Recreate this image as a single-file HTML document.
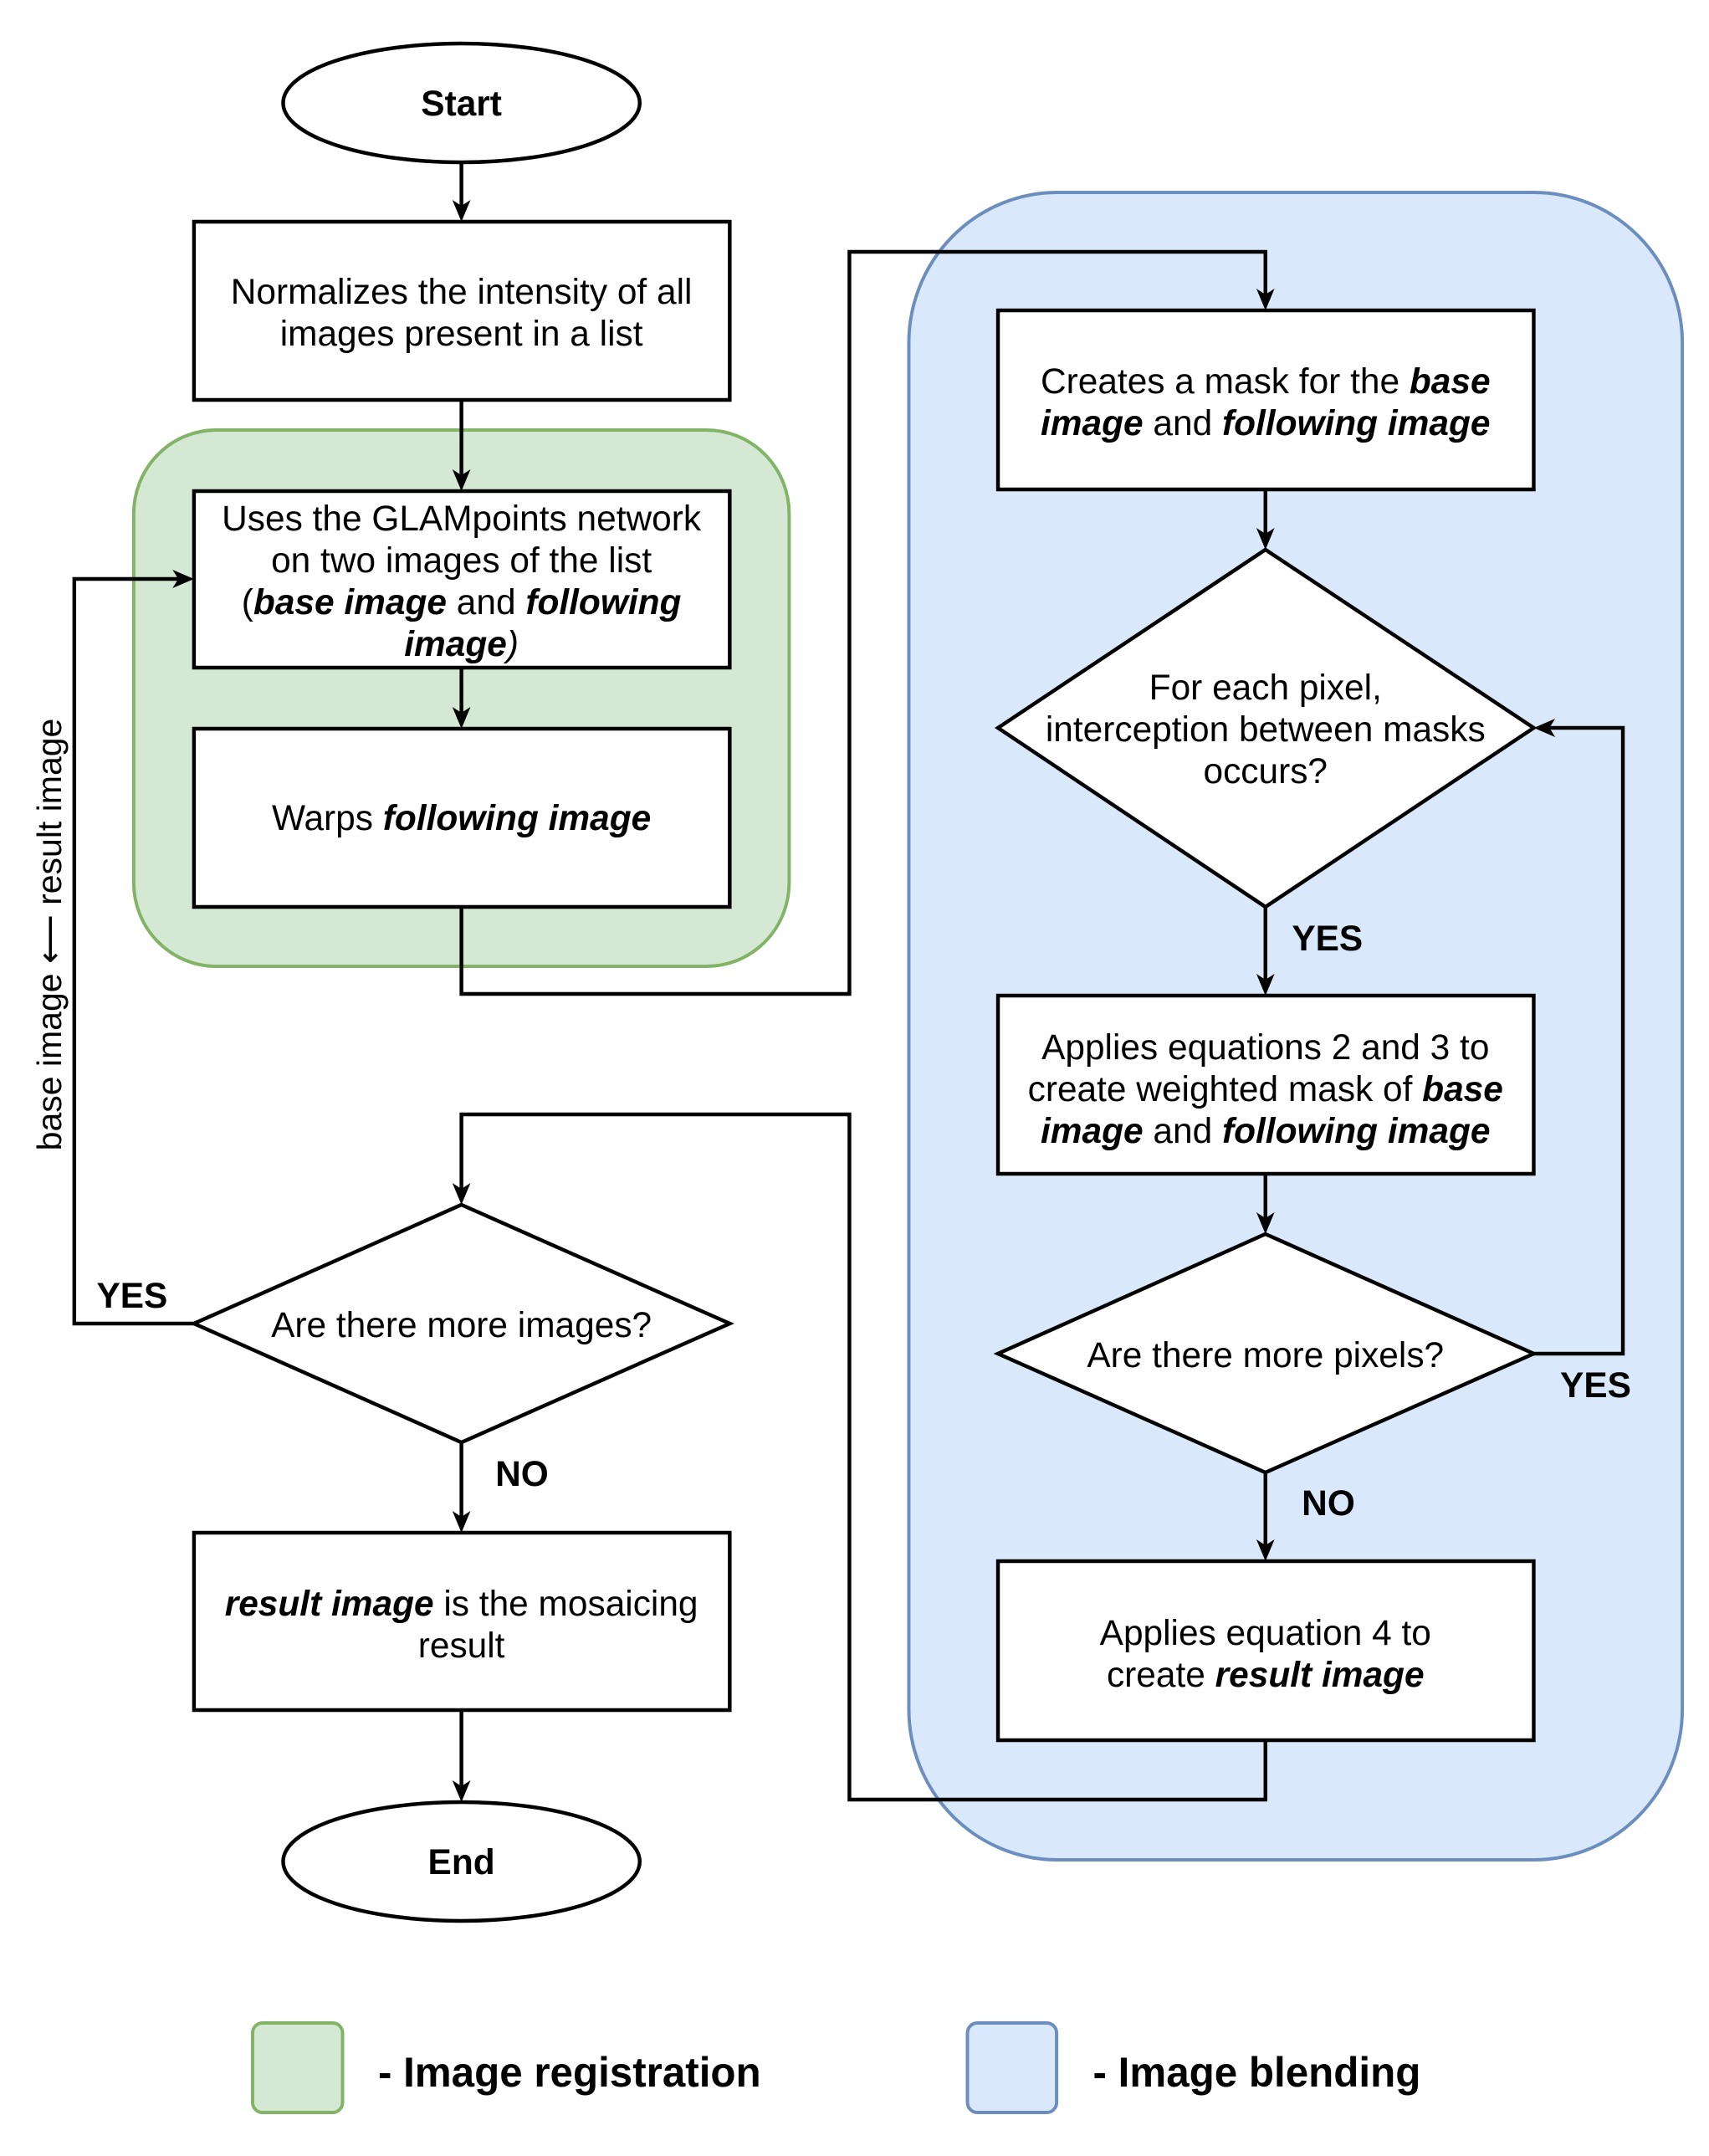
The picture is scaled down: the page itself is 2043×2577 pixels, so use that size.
<!DOCTYPE html>
<html><head><meta charset="utf-8"><style>
html,body{margin:0;padding:0;background:#fff;}
svg{display:block;}
text{font-family:"Liberation Sans",Arial,sans-serif;font-size:43px;fill:#000;}
.b{font-weight:bold;}
.bi{font-weight:bold;font-style:italic;}
</style></head><body>
<svg width="2043" height="2577" viewBox="0 0 2043 2577" xmlns="http://www.w3.org/2000/svg">
<g transform="scale(0.9868 1)">
<rect x="162" y="514" width="794" height="641" rx="100" fill="#d5e8d4" stroke="#82b366" stroke-width="4"/>
<rect x="1101" y="230" width="937" height="1993" rx="180" fill="#dae8fc" stroke="#6c8ebf" stroke-width="4"/>

<g stroke="#000" stroke-width="4.5" fill="none">
<path d="M559 194 V255"/>
<path d="M559 478 V577"/>
<path d="M559 798 V861"/>
<path d="M559 1084 V1188 H1029 V301 H1533 V361"/>
<path d="M1533 585 V647"/>
<path d="M1533 1084 V1180"/>
<path d="M1533 1403 V1465"/>
<path d="M1533 1760 V1856"/>
<path d="M1858 1618 H1966 V870 H1868"/>
<path d="M1533 2080 V2151 H1029 V1332 H559 V1430"/>
<path d="M235 1582 H90 V692 H225"/>
<path d="M559 1724 V1822"/>
<path d="M559 2044 V2144"/>
</g>
<g fill="#000">
<path d="M559 265 l-11 -26 l11 7 l11 -7z"/>
<path d="M559 587 l-11 -26 l11 7 l11 -7z"/>
<path d="M559 871 l-11 -26 l11 7 l11 -7z"/>
<path d="M1533 371 l-11 -26 l11 7 l11 -7z"/>
<path d="M1533 657 l-11 -26 l11 7 l11 -7z"/>
<path d="M1533 1190 l-11 -26 l11 7 l11 -7z"/>
<path d="M1533 1475 l-11 -26 l11 7 l11 -7z"/>
<path d="M1533 1866 l-11 -26 l11 7 l11 -7z"/>
<path d="M559 1440 l-11 -26 l11 7 l11 -7z"/>
<path d="M559 1832 l-11 -26 l11 7 l11 -7z"/>
<path d="M559 2154 l-11 -26 l11 7 l11 -7z"/>
<path d="M235 692 l-26 -11 l7 11 l-7 11z"/>
<path d="M1858 870 l26 -11 l-7 11 l7 11z"/>
</g>

<g stroke="#000" stroke-width="4.5" fill="#fff">
<ellipse cx="559" cy="123" rx="216" ry="71"/>
<rect x="235" y="265" width="649" height="213"/>
<rect x="235" y="587" width="649" height="211"/>
<rect x="235" y="871" width="649" height="213"/>
<rect x="1209" y="371" width="649" height="214"/>
<polygon points="1533,657 1858,870 1533,1084 1209,870"/>
<rect x="1209" y="1190" width="649" height="213"/>
<polygon points="1533,1475 1858,1618 1533,1760 1209,1618"/>
<rect x="1209" y="1866" width="649" height="214"/>
<polygon points="559,1440 884,1582 559,1724 235,1582"/>
<rect x="235" y="1832" width="649" height="212"/>
<ellipse cx="559" cy="2225" rx="216" ry="71"/>
</g>

<g text-anchor="middle">
<text x="559" y="138" class="b">Start</text>
<text x="559" y="363">Normalizes the intensity of all</text>
<text x="559" y="413">images present in a list</text>
<text x="559" y="634">Uses the GLAMpoints network</text>
<text x="559" y="684">on two images of the list</text>
<text x="559" y="734">(<tspan class="bi">base image</tspan> and <tspan class="bi">following</tspan></text>
<text x="559" y="784"><tspan class="bi">image</tspan><tspan font-style="italic">)</tspan></text>
<text x="559" y="992">Warps <tspan class="bi">following image</tspan></text>
<text x="1533" y="470">Creates a mask for the <tspan class="bi">base</tspan></text>
<text x="1533" y="520"><tspan class="bi">image</tspan> and <tspan class="bi">following image</tspan></text>
<text x="1533" y="836">For each pixel,</text>
<text x="1533" y="886">interception between masks</text>
<text x="1533" y="936">occurs?</text>
<text x="1533" y="1266">Applies equations 2 and 3 to</text>
<text x="1533" y="1316">create weighted mask of <tspan class="bi">base</tspan></text>
<text x="1533" y="1366"><tspan class="bi">image</tspan> and <tspan class="bi">following image</tspan></text>
<text x="1533" y="1634">Are there more pixels?</text>
<text x="1533" y="1966">Applies equation 4 to</text>
<text x="1533" y="2016">create <tspan class="bi">result image</tspan></text>
<text x="559" y="1598">Are there more images?</text>
<text x="559" y="1931"><tspan class="bi">result image</tspan> is the mosaicing</text>
<text x="559" y="1981">result</text>
<text x="559" y="2240" class="b">End</text>
</g>
<text x="1565" y="1136" class="b">YES</text>
<text x="1890" y="1670" class="b">YES</text>
<text x="1577" y="1811" class="b">NO</text>
<text x="117" y="1563" class="b">YES</text>
<text x="600" y="1776" class="b">NO</text>
<text transform="translate(74,1117) rotate(-90)" text-anchor="middle" style="font-size:41px">base image ⟵ result image</text>

<rect x="306" y="2418" width="109" height="107" rx="12" fill="#d5e8d4" stroke="#82b366" stroke-width="4"/>
<text x="458" y="2494" class="b" style="font-size:50px">- Image registration</text>
<rect x="1172" y="2418" width="108" height="107" rx="12" fill="#dae8fc" stroke="#6c8ebf" stroke-width="4"/>
<text x="1324" y="2494" class="b" style="font-size:50px">- Image blending</text>
</g>
</svg>
</body></html>
